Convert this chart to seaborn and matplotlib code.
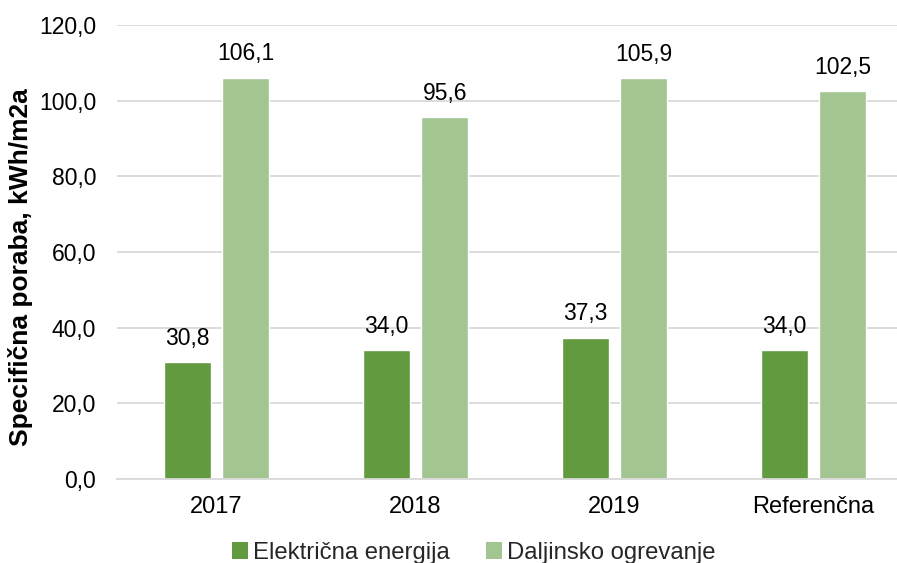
import matplotlib
matplotlib.use("Agg")
import matplotlib.pyplot as plt
import seaborn as sns
import pandas as pd
from matplotlib.patches import Patch

categories = ["2017", "2018", "2019", "Referenčna"]
series_names = ["Električna energija", "Daljinsko ogrevanje"]
elektricna = [30.8, 34.0, 37.3, 34.0]
daljinsko = [106.1, 95.6, 105.9, 102.5]
yticks = [0, 20, 40, 60, 80, 100, 120]
colors = ["#629A3F", "#A2C592"]

df = pd.DataFrame({
    "cat": categories * 2,
    "serie": [series_names[0]] * 4 + [series_names[1]] * 4,
    "val": elektricna + daljinsko,
})

sns.set_theme(style="white")
plt.rcParams["font.family"] = ["Liberation Sans", "DejaVu Sans"]

fig = plt.figure(figsize=(8.97, 5.63), dpi=100)
ax = fig.add_axes([117 / 897, 1 - 479 / 563, 796 / 897, 454 / 563])

sns.barplot(data=df, x="cat", y="val", hue="serie", palette=colors,
            width=0.59, gap=0.2, ax=ax, legend=False, saturation=1)

ax.set_ylim(0, 120)
ax.set_yticks(yticks)
ax.set_yticklabels([f"{v:.1f}".replace(".", ",") for v in yticks], fontsize=16.5, color="#000000")
ax.set_xlim(-0.5, 3.5)
ax.tick_params(axis="x", labelsize=17, colors="#000000", length=0, pad=12)
ax.tick_params(axis="y", length=0, pad=15)
ax.set_xlabel("")
ax.set_ylabel("Specifična poraba, kWh/m2a", fontsize=19, fontweight="bold", color="#000000")
ax.yaxis.set_label_coords(-0.106, 0.467)
ax.grid(axis="y", color="#D9D9D9", linewidth=1.3)
ax.set_axisbelow(True)
for s in ["top", "right", "left"]:
    ax.spines[s].set_visible(False)
ax.spines["bottom"].set_color("#D9D9D9")
ax.spines["bottom"].set_linewidth(1.3)

for cont in ax.containers:
    labels = [f"{b.get_height():.1f}".replace(".", ",") for b in cont]
    ax.bar_label(cont, labels=labels, padding=9, fontsize=16.5, color="#000000")

handles = [Patch(facecolor=c, edgecolor="none") for c in colors]
fig.legend(handles, series_names, loc="lower center", bbox_to_anchor=(0.528, -0.04),
           ncol=2, frameon=False, fontsize=17.2, handlelength=0.7, handleheight=0.7,
           handletextpad=0.2, columnspacing=1.5)

fig.savefig("out.png", dpi=100)
